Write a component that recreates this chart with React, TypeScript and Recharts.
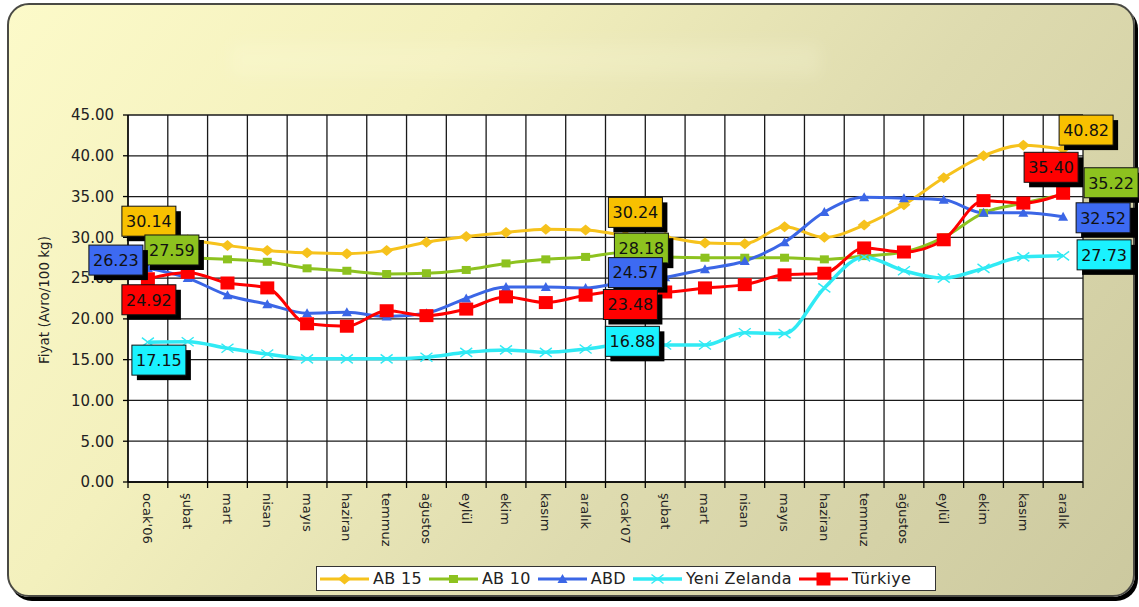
import React from "react"
import { CartesianGrid, LabelList, Line, LineChart, XAxis, YAxis } from "recharts"

const months = [
  "ocak'06", "şubat", "mart", "nisan", "mayıs", "haziran", "temmuz", "ağustos", "eylül", "ekim", "kasım", "aralık",
  "ocak'07", "şubat", "mart", "nisan", "mayıs", "haziran", "temmuz", "ağustos", "eylül", "ekim", "kasım", "aralık",
]

const ab15 = [30.14, 29.7, 29.0, 28.4, 28.1, 28.0, 28.4, 29.4, 30.1, 30.6, 31.0, 30.9, 30.24, 30.0, 29.3, 29.2, 31.3, 30.0, 31.5, 34.0, 37.3, 40.0, 41.3, 40.82]
const ab10 = [27.59, 27.5, 27.3, 27.0, 26.2, 25.9, 25.5, 25.6, 26.0, 26.8, 27.3, 27.6, 28.18, 27.6, 27.5, 27.5, 27.5, 27.3, 27.7, 28.2, 30.0, 33.0, 34.2, 35.22]
const abd = [26.23, 25.0, 22.9, 21.8, 20.7, 20.8, 20.3, 20.7, 22.5, 23.9, 23.9, 23.8, 24.57, 25.1, 26.1, 27.1, 29.4, 33.1, 34.9, 34.8, 34.6, 33.0, 33.0, 32.52]
const yeniZelanda = [17.15, 17.2, 16.4, 15.7, 15.1, 15.1, 15.1, 15.3, 15.9, 16.2, 15.9, 16.3, 16.88, 16.8, 16.8, 18.3, 18.2, 23.8, 27.6, 25.9, 25.0, 26.2, 27.6, 27.73]
const turkiye = [24.92, 25.7, 24.4, 23.8, 19.4, 19.1, 21.0, 20.4, 21.2, 22.7, 22.0, 22.9, 23.48, 23.3, 23.8, 24.2, 25.4, 25.6, 28.7, 28.2, 29.7, 34.5, 34.2, 35.4]

const yTicks = [0, 5, 10, 15, 20, 25, 30, 35, 40, 45]

const data = months.map((m, i) => ({
  i,
  m,
  ab15: ab15[i],
  ab10: ab10[i],
  abd: abd[i],
  yz: yeniZelanda[i],
  tr: turkiye[i],
}))

const FONT = '"DejaVu Sans", Arial, sans-serif'
const PLOT_LEFT = 128
const PLOT_RIGHT = 1083

type Kind = "diamond" | "square" | "triangle" | "cross" | "bigsquare"

// label box offsets (box centre relative to the point), by category index
const series = [
  { key: "ab15", name: "AB 15", values: ab15, color: "#f6c21c", box: "#f8c000", kind: "diamond" as Kind, width: 3,
    labels: { 0: [1, -15], 12: [10, -23], 23: [23, -19] } },
  { key: "ab10", name: "AB 10", values: ab10, color: "#8dc21f", box: "#8dc21f", kind: "square" as Kind, width: 3,
    labels: { 0: [24, -7], 12: [16, -4], 23: [48, -12] } },
  { key: "abd", name: "ABD", values: abd, color: "#3b66e6", box: "#3d6af2", kind: "triangle" as Kind, width: 3,
    labels: { 0: [-32, -8], 12: [10, -9], 23: [40, 1] } },
  { key: "yz", name: "Yeni Zelanda", values: yeniZelanda, color: "#30eaf4", box: "#1af2ff", kind: "cross" as Kind, width: 3.5,
    labels: { 0: [11, 18], 12: [7, -3], 23: [41, -1] } },
  { key: "tr", name: "Türkiye", values: turkiye, color: "#ff0000", box: "#ff0000", kind: "bigsquare" as Kind, width: 3,
    labels: { 0: [1, 21], 12: [5, 14], 23: [-12, -26] } },
]

function Marker({ kind, cx, cy, color }: { kind: Kind; cx: number; cy: number; color: string }) {
  switch (kind) {
    case "diamond":
      return <polygon points={`${cx - 6.5},${cy} ${cx},${cy - 5.5} ${cx + 6.5},${cy} ${cx},${cy + 5.5}`} fill={color} />
    case "square":
      return <rect x={cx - 4.5} y={cy - 4} width={9} height={8} fill={color} />
    case "triangle":
      return <polygon points={`${cx - 5},${cy + 4} ${cx},${cy - 5} ${cx + 5},${cy + 4}`} fill={color} />
    case "cross":
      return (
        <path
          d={`M${cx - 6},${cy - 4.5}L${cx + 6},${cy + 4.5}M${cx - 6},${cy + 4.5}L${cx + 6},${cy - 4.5}`}
          stroke={color}
          strokeWidth={1.4}
          fill="none"
        />
      )
    default:
      return <rect x={cx - 7} y={cy - 6.5} width={14} height={13} fill={color} />
  }
}

function makeBox(s: (typeof series)[number]) {
  return (props: any) => {
    const px = props.viewBox?.x ?? props.x
    const py = props.viewBox?.y ?? props.y
    const idx = typeof props.index === "number" ? props.index : s.values.indexOf(props.value)
    const off = (s.labels as any)[idx]
    if (!off || px == null || py == null) return null
    const w = 54
    const h = 30
    const x = px + off[0] - w / 2
    const y = py + off[1] - h / 2
    return (
      <g>
        <rect x={x + 5} y={y + 5} width={w} height={h} fill="#000" />
        <rect x={x} y={y} width={w} height={h} fill={s.box} stroke="#111" strokeWidth={1} />
        <text x={x + w / 2} y={y + h / 2} dy="0.36em" textAnchor="middle" fontFamily={FONT} fontSize={16} fill="#111">
          {Number(props.value).toFixed(2)}
        </text>
      </g>
    )
  }
}

const XTick = (props: any) => {
  const { x, y, payload, index } = props
  const half = (PLOT_RIGHT - PLOT_LEFT) / months.length / 2
  const axisY = y - 8
  const ty = y + 3
  return (
    <g>
      <line x1={x - half} x2={x - half} y1={axisY} y2={axisY + 6} stroke="#000" strokeWidth={1.3} />
      {index === months.length - 1 && (
        <line x1={x + half} x2={x + half} y1={axisY} y2={axisY + 6} stroke="#000" strokeWidth={1.3} />
      )}
      <text
        x={x}
        y={ty}
        dy="0.35em"
        transform={`rotate(90 ${x} ${ty})`}
        textAnchor="start"
        fontFamily={FONT}
        fontSize={13}
        fill="#222"
      >
        {months[payload.value]}
      </text>
    </g>
  )
}

const YTitle = () => (
  <text
    x={44}
    y={300}
    transform="rotate(-90 44 300)"
    textAnchor="middle"
    dy="0.35em"
    fontFamily={FONT}
    fontSize={13.5}
    fill="#222"
  >
    Fiyat (Avro/100 kg)
  </text>
)

const boundaries = months.map((_, i) => i - 0.5).concat([months.length - 0.5])

function LegendBox() {
  return (
    <div
      style={{
        position: "absolute",
        left: 316,
        top: 566,
        width: 615,
        height: 23,
        border: "1px solid #333",
        background: "#fff",
        display: "flex",
        alignItems: "center",
        paddingLeft: 3,
        boxSizing: "content-box",
        fontFamily: FONT,
        fontSize: 16,
        color: "#222",
        gap: 7,
      }}
    >
      {series.map((s) => (
        <div key={s.key} style={{ display: "flex", alignItems: "center", gap: 4 }}>
          <svg width={49} height={16}>
            <line x1={0} x2={49} y1={8} y2={8} stroke={s.color} strokeWidth={s.width} />
            <Marker kind={s.kind} cx={24.5} cy={8} color={s.color} />
          </svg>
          <span style={{ letterSpacing: 0.3, whiteSpace: "nowrap" }}>{s.name}</span>
        </div>
      ))}
    </div>
  )
}

export default function App() {
  return (
    <div style={{ position: "absolute", left: 0, top: 0, width: 1139, height: 607, overflow: "hidden", background: "#fff" }}>
      <div
        style={{
          position: "absolute",
          left: 7,
          top: 3,
          width: 1124,
          height: 590,
          border: "2px solid #4a4a44",
          borderRadius: 22,
          boxShadow: "3px 4px 0 #000",
          background: "linear-gradient(128deg, #fcfac9 0%, #f3f0bd 30%, #dedbaf 62%, #ccc99f 100%)",
        }}
      />
      <div
        style={{
          position: "absolute",
          left: 230,
          top: 44,
          width: 590,
          height: 32,
          background: "rgba(255,255,235,0.18)",
          filter: "blur(8px)",
        }}
      />
      <div style={{ position: "absolute", left: 0, top: 0 }}>
        <LineChart width={1139} height={607} data={data} margin={{ top: 115, right: 56, bottom: 0, left: 20 }}>
          <CartesianGrid
            fill="#fff"
            stroke="#1a1a1a"
            strokeWidth={1.3}
            verticalCoordinatesGenerator={({ xAxis, offset }: any) => {
              const s = xAxis?.scale
              return boundaries.map((b) =>
                typeof s === "function" ? s(b) : offset.left + ((b + 0.5) / months.length) * offset.width,
              )
            }}
          />
          <XAxis
            type="number"
            dataKey="i"
            domain={[-0.5, months.length - 0.5]}
            ticks={months.map((_, i) => i)}
            interval={0}
            tick={<XTick />}
            tickLine={false}
            tickSize={6}
            tickMargin={2}
            height={125}
            axisLine={{ stroke: "#000", strokeWidth: 1.3 }}
          />
          <YAxis
            type="number"
            domain={[0, 45]}
            ticks={yTicks}
            interval={0}
            width={108}
            tickFormatter={(v) => Number(v).toFixed(2)}
            tick={{ fill: "#222", fontSize: 15, fontFamily: FONT }}
            tickSize={5}
            tickMargin={9}
            tickLine={{ stroke: "#000", strokeWidth: 1.3 }}
            axisLine={{ stroke: "#000", strokeWidth: 1.3 }}
            label={<YTitle />}
          />
          {series.map((s) => (
            <Line
              key={s.key}
              type="monotone"
              dataKey={s.key}
              name={s.name}
              stroke={s.color}
              strokeWidth={s.width}
              isAnimationActive={false}
              activeDot={false}
              dot={(p: any) => <Marker key={`${s.key}-${p.index}`} kind={s.kind} cx={p.cx} cy={p.cy} color={s.color} />}
            />
          ))}
          {series.map((s) => (
            <Line
              key={`${s.key}-lbl`}
              type="monotone"
              dataKey={s.key}
              stroke="none"
              dot={false}
              activeDot={false}
              legendType="none"
              isAnimationActive={false}
            >
              <LabelList dataKey={s.key} content={makeBox(s)} />
            </Line>
          ))}
        </LineChart>
      </div>
      <LegendBox />
    </div>
  )
}
